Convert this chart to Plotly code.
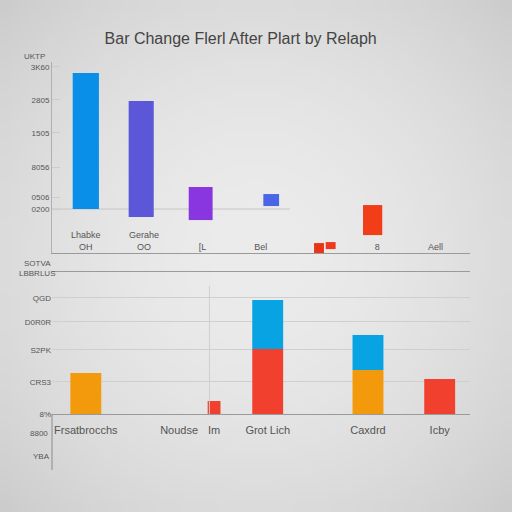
import base64
import struct
import zlib

import plotly.graph_objects as go
from plotly.subplots import make_subplots

title = "Bar Change Flerl After Plart by Relaph"

# top panel: floating bars (bottom / top values)
top_cats = ["Lhabke<br>OH", "Gerahe<br>OO", "[L", "Bel", "", "8", "Aell"]
top_x = [0, 0.95, 1.97, 3.18, 4.0, 4.2, 4.92]
top_low = [0, -120, -165, 45, -660, -600, -390]
top_high = [2040, 1620, 330, 225, -510, -495, 60]
top_ticks = [2130, 1635, 1140, 630, 180, 0, -465]
top_tick_text = ["3K60", "2805", "1505", "8056", "0506", "0200", "0127"]

# bottom panel: stacked bars
bot_cats = ["Frsatbrocchs", "Noudse", "Im", "Grot Lich", "Caxdrd", "Icby"]
bot_x = [0, 1.6, 2.2, 3.12, 4.84, 6.07]
bot_red = [0, 0, 130, 650, 0, 350]
bot_orange = [410, 0, 0, 0, 440, 0]
bot_blue = [0, 0, 0, 490, 350, 0]
bot_ticks = [1160, 920, 640, 320, 0]
bot_tick_text = ["QGD", "D0R0R", "S2PK", "CRS3", "8%"]

top_colors = ["#0a8fe8", "#5b57d8", "#8a36e0", "#4a66e6", "#ea3418", "#ee3a1c", "#f23e18"]
top_widths = [0.45, 0.43, 0.41, 0.27, 0.17, 0.17, 0.33]
bot_widths = [0.53, 0.53, 0.22, 0.53, 0.53, 0.53]


def vignette_png(size=64, inner=236, outer=205):
    # soft grey radial background, light in the middle
    rows = b""
    c = (size - 1) / 2
    for j in range(size):
        rows += b"\x00"
        for i in range(size):
            d = (((i - c) / c) ** 2 + ((j - c) / c) ** 2) ** 0.5 / 1.414
            v = int(inner - (inner - outer) * d ** 1.8)
            rows += bytes([v, v, v])

    def chunk(tag, data):
        out = struct.pack(">I", len(data)) + tag + data
        return out + struct.pack(">I", zlib.crc32(tag + data) & 0xffffffff)

    png = b"\x89PNG\r\n\x1a\n"
    png += chunk(b"IHDR", struct.pack(">IIBBBBB", size, size, 8, 2, 0, 0, 0))
    png += chunk(b"IDAT", zlib.compress(rows))
    png += chunk(b"IEND", b"")
    return "data:image/png;base64," + base64.b64encode(png).decode()


fig = make_subplots(rows=2, cols=1, vertical_spacing=0.05)

fig.add_trace(go.Bar(
    x=top_x,
    y=[h - l for h, l in zip(top_high, top_low)],
    base=top_low,
    width=top_widths,
    marker=dict(color=top_colors, line=dict(width=0)),
    showlegend=False), row=1, col=1)

blue_base = [r + o for r, o in zip(bot_red, bot_orange)]
for vals, base, color in [(bot_red, [0] * 6, "#f2402e"),
                          (bot_orange, [0] * 6, "#f29a0c"),
                          (bot_blue, blue_base, "#07a3e3")]:
    fig.add_trace(go.Bar(
        x=bot_x, y=vals, base=base, width=bot_widths,
        marker=dict(color=color, line=dict(width=0)),
        showlegend=False), row=2, col=1)

axis_font = dict(family="Liberation Sans, Arial, sans-serif", size=8, color="#555555")

fig.update_layout(
    width=512, height=512,
    margin=dict(l=52, r=42, t=58, b=98),
    barmode="overlay",
    paper_bgcolor="#e2e2e2",
    plot_bgcolor="rgba(0,0,0,0)",
    title=dict(text=title, x=0.47, xanchor="center", y=0.935,
               font=dict(family="Liberation Sans, Arial, sans-serif", size=16, color="#444444")),
    font=axis_font,
    images=[dict(source=vignette_png(), xref="paper", yref="paper",
                 x=-52 / 418, y=1 + 58 / 356, sizex=512 / 418, sizey=512 / 356,
                 sizing="stretch", layer="below", xanchor="left", yanchor="top")],
)

fig.update_xaxes(range=[-0.58, 6.59], showgrid=False, zeroline=False,
                 showline=True, linecolor="#9a9a9a", linewidth=1)
fig.update_xaxes(tickvals=[0, 1, 2, 3, 4, 5, 6], ticktext=top_cats, ticks="",
                 ticklabelposition="inside", tickfont=dict(axis_font, size=9),
                 row=1, col=1)
fig.update_xaxes(tickvals=bot_x, ticktext=bot_cats, mirror=True,
                 ticks="outside", ticklen=6, tickcolor="rgba(0,0,0,0)",
                 tickfont=dict(family="Liberation Sans, Arial, sans-serif", size=11, color="#555555"),
                 row=2, col=1)

fig.update_yaxes(domain=[0.452, 0.989], range=[-660, 2205],
                 tickvals=top_ticks, ticktext=top_tick_text,
                 showgrid=False, zeroline=False,
                 showline=True, linecolor="#b0b0b0", ticks="inside", ticklen=8,
                 tickcolor="#cccccc", row=1, col=1)
fig.update_yaxes(domain=[0, 0.399], range=[0, 1420],
                 tickvals=bot_ticks, ticktext=bot_tick_text,
                 showgrid=True, gridcolor="#cfcfcf", zeroline=False,
                 showline=False, row=2, col=1)

# baseline of the top panel only runs part of the way across
fig.add_shape(type="line", xref="x", yref="y", x0=-0.58, x1=3.5, y0=0, y1=0,
              line=dict(color="#c6c6c6", width=1), layer="below")
# small extras seen around the axes
fig.add_shape(type="line", xref="paper", yref="paper", x0=0, x1=0, y0=-0.157, y1=0,
              line=dict(color="#8a8a8a", width=1))
fig.add_shape(type="line", xref="x2", yref="paper", x0=2.12, x1=2.12, y0=0, y1=0.36,
              line=dict(color="#cfcfcf", width=1))
for txt, px, py in [("UKTP", -0.012, 1.022), ("SOTVA<br>LBBRLUS", 0.012, 0.41),
                    ("8800", -0.005, -0.073), ("YBA", 0.0, -0.138)]:
    fig.add_annotation(text=txt, xref="paper", yref="paper", x=px, y=py,
                       showarrow=False, xanchor="right",
                       font=dict(size=8, color="#555555"))

fig.write_html("out.html", config={"displayModeBar": False},
               post_script="document.body.style.margin='0';")
